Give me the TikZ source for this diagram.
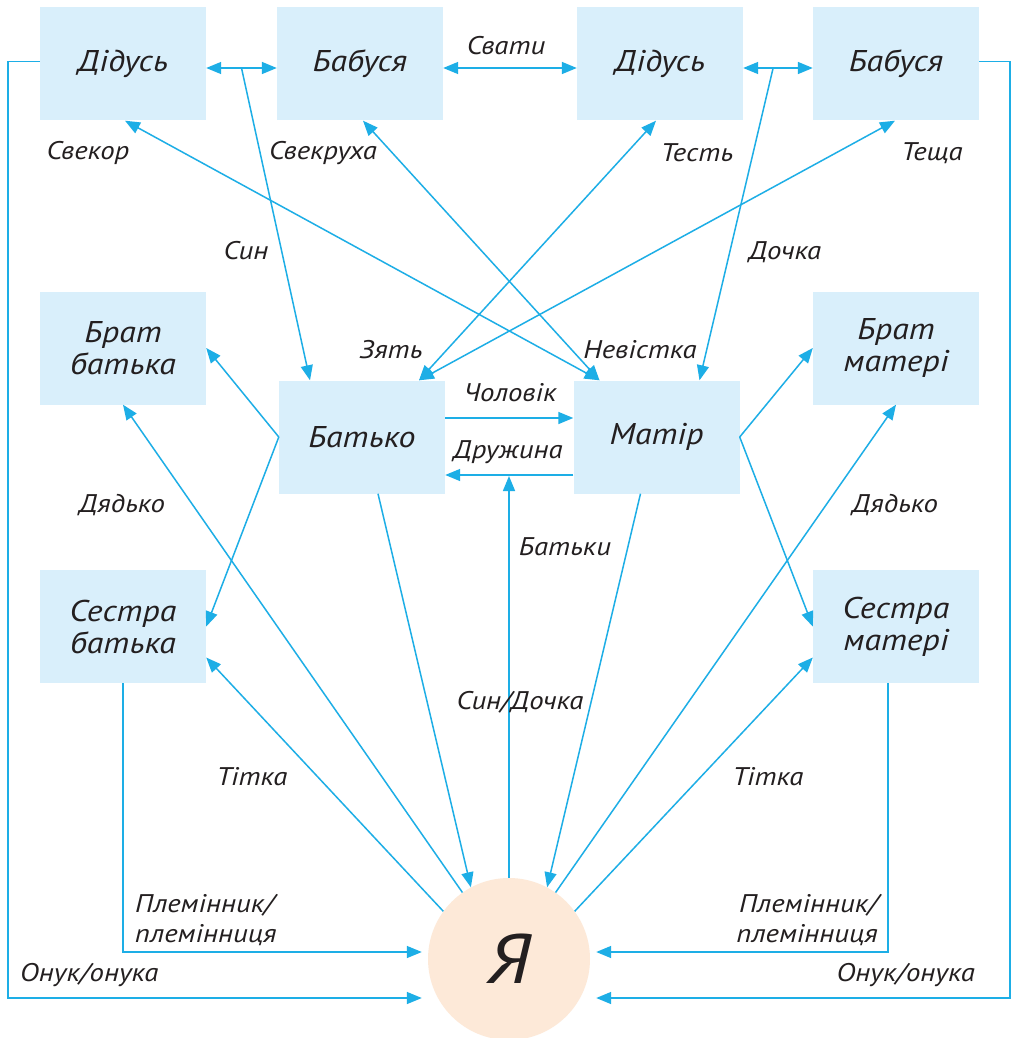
\documentclass[tikz,border=0pt]{standalone}
\usepackage{fontspec}
\setmainfont{PT Sans}[FakeStretch=1.13]
\usetikzlibrary{arrows.meta,calc}
\definecolor{lnc}{RGB}{29,174,230}
\definecolor{boxc}{RGB}{217,239,251}
\definecolor{mec}{RGB}{253,233,216}
\definecolor{txt}{RGB}{35,31,32}
\begin{document}
\begin{tikzpicture}[x=1pt,y=-1pt,
  box/.style={fill=boxc, minimum width=166pt, minimum height=113pt, inner sep=0pt, align=center, font=\fontsize{30}{32}\selectfont\itshape, text=txt},
  lbl/.style={font=\fontsize{25.5}{30}\selectfont\itshape, text=txt, inner sep=0pt},
  conn/.style={draw=lnc, line width=1.5pt, -{Triangle[length=15pt,width=12pt]}},
  dbl/.style={draw=lnc, line width=1.5pt, {Triangle[length=15pt,width=12pt]}-{Triangle[length=15pt,width=12pt]}}
]
\fill[white] (0,0) rectangle (1013,1038);
\useasboundingbox (0,0) rectangle (1013,1038);

% boxes
\node[box] (d1) at (123,64) {Дідусь};
\node[box] (b1) at (360,64) {Бабуся};
\node[box] (d2) at (660,64) {Дідусь};
\node[box] (b2) at (896,64) {Бабуся};
\node[box] (bb) at (123,348) {Брат\\батька};
\node[box] (bm) at (896,348) {Брат\\матері};
\node[box] (sb) at (123,626.5) {Сестра\\батька};
\node[box] (sm) at (896,626.5) {Сестра\\матері};
\node[box] (f) at (362,437) {Батько};
\node[box] (m) at (656.5,437) {Матір};
\node[circle, fill=mec, minimum size=162pt, inner sep=0pt, text=txt, font=\fontsize{70}{74}\selectfont\itshape] (me) at (509,959) {Я};

% top row
\draw[dbl] ([yshift=-4pt]d1.east) -- ([yshift=-4pt]b1.west);
\coordinate (j1) at ($([yshift=-4pt]d1.east)!0.5!([yshift=-4pt]b1.west)$);
\draw[conn] (j1) -- ([xshift=-52pt]f.north);
\draw[dbl] ([yshift=-4pt]b1.east) -- ([yshift=-4pt]d2.west);
\draw[dbl] ([yshift=-4pt]d2.east) -- ([yshift=-4pt]b2.west);
\coordinate (j3) at ($([yshift=-4pt]d2.east)!0.43!([yshift=-4pt]b2.west)$);
\draw[conn] (j3) -- ([xshift=43pt]m.north);

% in-laws
\draw[dbl] ([xshift=2pt]d1.south) -- ([xshift=-57pt]m.north);
\draw[dbl] ([xshift=3pt]b1.south) -- ([xshift=-57pt]m.north);
\draw[dbl] ([xshift=-4pt]d2.south) -- ([xshift=57pt]f.north);
\draw[dbl] ([xshift=-1pt]b2.south) -- ([xshift=57pt]f.north);

% spouses
\draw[conn] ([yshift=19pt]f.east) -- ([yshift=19pt]m.west);
\draw[conn] ([yshift=-38pt]m.west) -- ([yshift=-38pt]f.east);
\coordinate (par) at (510,476);
\draw[conn] (me.north) -- (me.north |- par);

% parents to me
\draw[conn] ([xshift=16pt]f.south) -- (me.118);
\draw[conn] ([xshift=-16pt]m.south) -- (me.62);

% siblings of parents
\draw[conn] (f.west) -- (bb.east);
\draw[conn] (f.west) -- (sb.east);
\draw[conn] (m.east) -- (bm.west);
\draw[conn] (m.east) -- (sm.west);

% me to uncles / aunts
\draw[conn] (me.125) -- (bb.south);
\draw[conn] (me.144) -- ([yshift=-31pt]sb.east);
\draw[conn] (me.55) -- (bm.south);
\draw[conn] (me.36) -- ([yshift=-31pt]sm.west);

% outer loops
\draw[conn] ([yshift=2.5pt]d1.west) -- ++(-32,0) |- ([xshift=-6pt,yshift=-39pt]me.west);
\draw[conn] ([yshift=2.5pt]b2.east) -- ++(31,0) |- ([xshift=6pt,yshift=-39pt]me.east);
\draw[conn] (sb.south) |- ([xshift=-6pt,yshift=7pt]me.west);
\draw[conn] ([xshift=-8pt]sm.south) |- ([xshift=6pt,yshift=7pt]me.east);

% labels
\node[lbl] (l1) at (506,46) {Свати};
\node[lbl] (l2) at (88,153) {Свекор};
\node[lbl] (l3) at (323,153) {Свекруха};
\node[lbl] (l4) at (697,153) {Тесть};
\node[lbl] (l5) at (932,153) {Теща};
\node[lbl] (l6) at (246,251) {Син};
\node[lbl] (l7) at (785,252) {Дочка};
\node[lbl] (l8) at (391,350) {Зять};
\node[lbl] (l9) at (640,350) {Невістка};
\node[lbl] (l10) at (510,393) {Чоловік};
\node[lbl] (l11) at (508,452) {Дружина};
\node[lbl] (l12) at (122,505) {Дядько};
\node[lbl] (l13) at (895,505) {Дядько};
\node[lbl] (l14) at (565,547) {Батьки};
\node[lbl] (l15) at (520,702) {Син/Дочка};
\node[lbl] (l16) at (252,777) {Тітка};
\node[lbl] (l17) at (768,777) {Тітка};
\node[lbl, anchor=west, align=left] (l18) at (135,920) {Племінник/\\племінниця};
\node[lbl, anchor=east, align=right] (l19) at (878,920) {Племінник/\\племінниця};
\node[lbl, anchor=west] (l20) at (20,975) {Онук/онука};
\node[lbl, anchor=east] (l21) at (975,975) {Онук/онука};
\end{tikzpicture}
\end{document}
